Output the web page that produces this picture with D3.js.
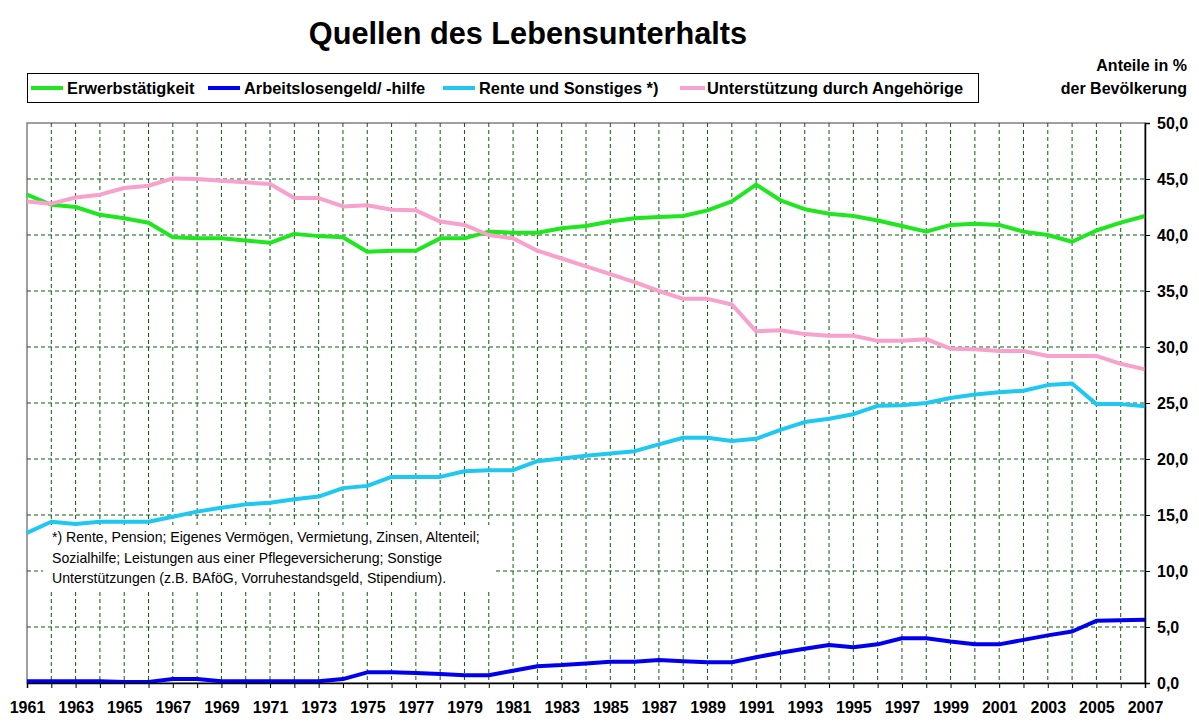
<!DOCTYPE html>
<html>
<head>
<meta charset="utf-8">
<script src="https://cdn.jsdelivr.net/npm/d3@7"></script>
<style>
body { margin: 0; background: #fff; }
text { font-family: Arial, "Liberation Sans", sans-serif; }
</style>
</head>
<body>
<script>
// Quellen des Lebensunterhalts, 1961-2007 (Anteile in % der Bevoelkerung)
var years = d3.range(1961, 2008);

var erwerb = [43.6, 42.7, 42.5, 41.8, 41.5, 41.1, 39.8, 39.7, 39.7, 39.5,
  39.3, 40.1, 39.9, 39.8, 38.5, 38.6, 38.6, 39.7, 39.7, 40.3,
  40.2, 40.2, 40.6, 40.8, 41.2, 41.5, 41.6, 41.7, 42.2, 43.0,
  44.5, 43.1, 42.3, 41.9, 41.7, 41.3, 40.8, 40.3, 40.9, 41.0,
  40.9, 40.3, 40.0, 39.4, 40.4, 41.1, 41.7];

var arbeitslos = [0.15, 0.15, 0.15, 0.15, 0.1, 0.1, 0.35, 0.35, 0.15, 0.15,
  0.15, 0.15, 0.15, 0.35, 0.95, 0.95, 0.9, 0.8, 0.7, 0.7,
  1.1, 1.5, 1.6, 1.75, 1.9, 1.9, 2.05, 1.95, 1.85, 1.85,
  2.3, 2.7, 3.05, 3.4, 3.2, 3.45, 4.0, 4.0, 3.7, 3.45,
  3.45, 3.85, 4.25, 4.6, 5.55, 5.6, 5.65];

var rente = [13.4, 14.4, 14.2, 14.4, 14.4, 14.4, 14.85, 15.3, 15.65, 15.95,
  16.1, 16.4, 16.65, 17.4, 17.6, 18.4, 18.4, 18.4, 18.9, 19.0,
  19.0, 19.8, 20.05, 20.3, 20.5, 20.7, 21.3, 21.9, 21.9, 21.6,
  21.8, 22.6, 23.3, 23.6, 24.0, 24.75, 24.8, 25.0, 25.45, 25.75,
  25.95, 26.1, 26.6, 26.75, 24.9, 24.9, 24.7];

var angehoerige = [43.0, 42.8, 43.35, 43.6, 44.2, 44.4, 45.05, 45.0, 44.85, 44.7,
  44.55, 43.3, 43.3, 42.55, 42.65, 42.25, 42.2, 41.2, 40.9, 40.0,
  39.7, 38.6, 37.9, 37.2, 36.5, 35.8, 35.0, 34.3, 34.3, 33.8,
  31.4, 31.5, 31.15, 31.0, 31.0, 30.55, 30.55, 30.7, 29.85, 29.8,
  29.65, 29.65, 29.2, 29.2, 29.2, 28.5, 28.0];

var seriesNames = ['Erwerbstätigkeit', 'Arbeitslosengeld/ -hilfe', 'Rente und Sonstiges *)', 'Unterstützung durch Angehörige'];
var seriesColors = ['#20e620', '#0000ee', '#1ec8f0', '#f7a1cb'];
var seriesValues = [erwerb, arbeitslos, rente, angehoerige];
var yTicks = [0, 5, 10, 15, 20, 25, 30, 35, 40, 45, 50];

var footnote = ['*) Rente, Pension; Eigenes Vermögen, Vermietung, Zinsen, Altenteil;',
  'Sozialhilfe; Leistungen aus einer Pflegeversicherung; Sonstige',
  'Unterstützungen (z.B. BAföG, Vorruhestandsgeld, Stipendium).'];

var WIDTH = 1199;
var HEIGHT = 724;
var LEFT = 27, RIGHT = 1145, TOP = 123, BOTTOM = 683;

var svg = d3.select('body')
.append('svg')
.attr('width', WIDTH)
.attr('height', HEIGHT);

var x = d3.scaleLinear().domain([1961, 2007]).range([LEFT, RIGHT]);
var y = d3.scaleLinear().domain([0, 50]).range([BOTTOM, TOP]);

// title
svg.append('text')
.attr('x', 528)
.attr('y', 44)
.attr('text-anchor', 'middle')
.attr('font-size', 30.7)
.attr('font-weight', 'bold')
.text('Quellen des Lebensunterhalts');

// unit label
svg.selectAll('text.unit')
.data(['Anteile in %', 'der Bevölkerung'])
.enter()
.append('text')
.attr('class', 'unit')
.attr('x', 1187)
.attr('y', function(d, i){return 71 + i * 23;})
.attr('text-anchor', 'end')
.attr('font-size', 16)
.attr('font-weight', 'bold')
.text(function(d){return d;});

// legend
var legendX = [31, 208, 443, 680];
svg.append('rect')
.attr('x', 27.5)
.attr('y', 73.5)
.attr('width', 951)
.attr('height', 29)
.attr('fill', 'none')
.attr('stroke', '#000')
.attr('stroke-width', 1);

var legend = svg.selectAll('g.legend')
.data(seriesNames)
.enter()
.append('g')
.attr('class', 'legend')
.attr('transform', function(d, i){return 'translate(' + legendX[i] + ',88)';});

legend.append('line')
.attr('x1', 0)
.attr('x2', function(d, i){return i == 3 ? 25 : 32;})
.attr('stroke', function(d, i){return seriesColors[i];})
.attr('stroke-width', 4);

legend.append('text')
.attr('x', function(d, i){return i == 3 ? 27 : 36;})
.attr('y', 6)
.attr('font-size', 16.4)
.attr('font-weight', 'bold')
.text(function(d){return d;});

// plot area
svg.append('rect')
.attr('x', LEFT)
.attr('y', TOP)
.attr('width', RIGHT - LEFT)
.attr('height', BOTTOM - TOP)
.attr('fill', '#fff')
.attr('stroke', '#808080')
.attr('stroke-width', 1.5);

svg.selectAll('line.vgrid')
.data(years.slice(1, -1))
.enter()
.append('line')
.attr('class', 'vgrid')
.attr('x1', function(d){return x(d);})
.attr('x2', function(d){return x(d);})
.attr('y1', TOP)
.attr('y2', BOTTOM)
.attr('stroke', '#0b5e0b')
.attr('stroke-dasharray', '4,3');

svg.selectAll('line.hgrid')
.data(yTicks.slice(1, -1))
.enter()
.append('line')
.attr('class', 'hgrid')
.attr('x1', LEFT)
.attr('x2', RIGHT)
.attr('y1', function(d){return y(d);})
.attr('y2', function(d){return y(d);})
.attr('stroke', '#0b5e0b')
.attr('stroke-dasharray', '4,3');

// footnote box
svg.append('rect')
.attr('x', 43)
.attr('y', 525)
.attr('width', 450)
.attr('height', 65)
.attr('fill', '#fff');

svg.selectAll('text.note')
.data(footnote)
.enter()
.append('text')
.attr('class', 'note')
.attr('x', 52)
.attr('y', function(d, i){return 542 + i * 20.5;})
.attr('font-size', 14.1)
.text(function(d){return d;});

// lines
var line = d3.line()
.x(function(d, i){return x(years[i]);})
.y(function(d){return y(d);});

svg.selectAll('path.series')
.data(seriesValues)
.enter()
.append('path')
.attr('class', 'series')
.attr('d', function(d){return line(d);})
.attr('fill', 'none')
.attr('stroke', function(d, i){return seriesColors[i];})
.attr('stroke-width', 4)
.attr('stroke-linejoin', 'round');

// axes
var xAxis = d3.axisBottom(x)
.tickValues(years)
.tickSize(5)
.tickFormat(function(d){return (d - 1961) % 2 == 0 ? d : '';});

var gx = svg.append('g')
.attr('transform', 'translate(0,' + BOTTOM + ')')
.call(xAxis);

var yAxis = d3.axisRight(y)
.tickValues(yTicks)
.tickSize(5)
.tickFormat(function(d){return d3.format('.1f')(d).replace('.', ',');});

var gy = svg.append('g')
.attr('transform', 'translate(' + RIGHT + ',0)')
.call(yAxis);

gx.select('.domain').attr('stroke', '#000').attr('stroke-width', 1.5);
gy.select('.domain').attr('stroke', '#000').attr('stroke-width', 1.5);
gx.selectAll('.tick line').attr('stroke', '#000');
gy.selectAll('.tick line').attr('stroke', '#000');

gx.selectAll('.tick text')
.attr('font-family', 'Arial, "Liberation Sans", sans-serif')
.attr('font-size', 16)
.attr('font-weight', 'bold')
.attr('fill', '#000')
.attr('y', 30)
.attr('dy', 0);

gy.selectAll('.tick text')
.attr('font-family', 'Arial, "Liberation Sans", sans-serif')
.attr('font-size', 16)
.attr('font-weight', 'bold')
.attr('fill', '#000')
.attr('x', 12);
</script>
</body>
</html>
